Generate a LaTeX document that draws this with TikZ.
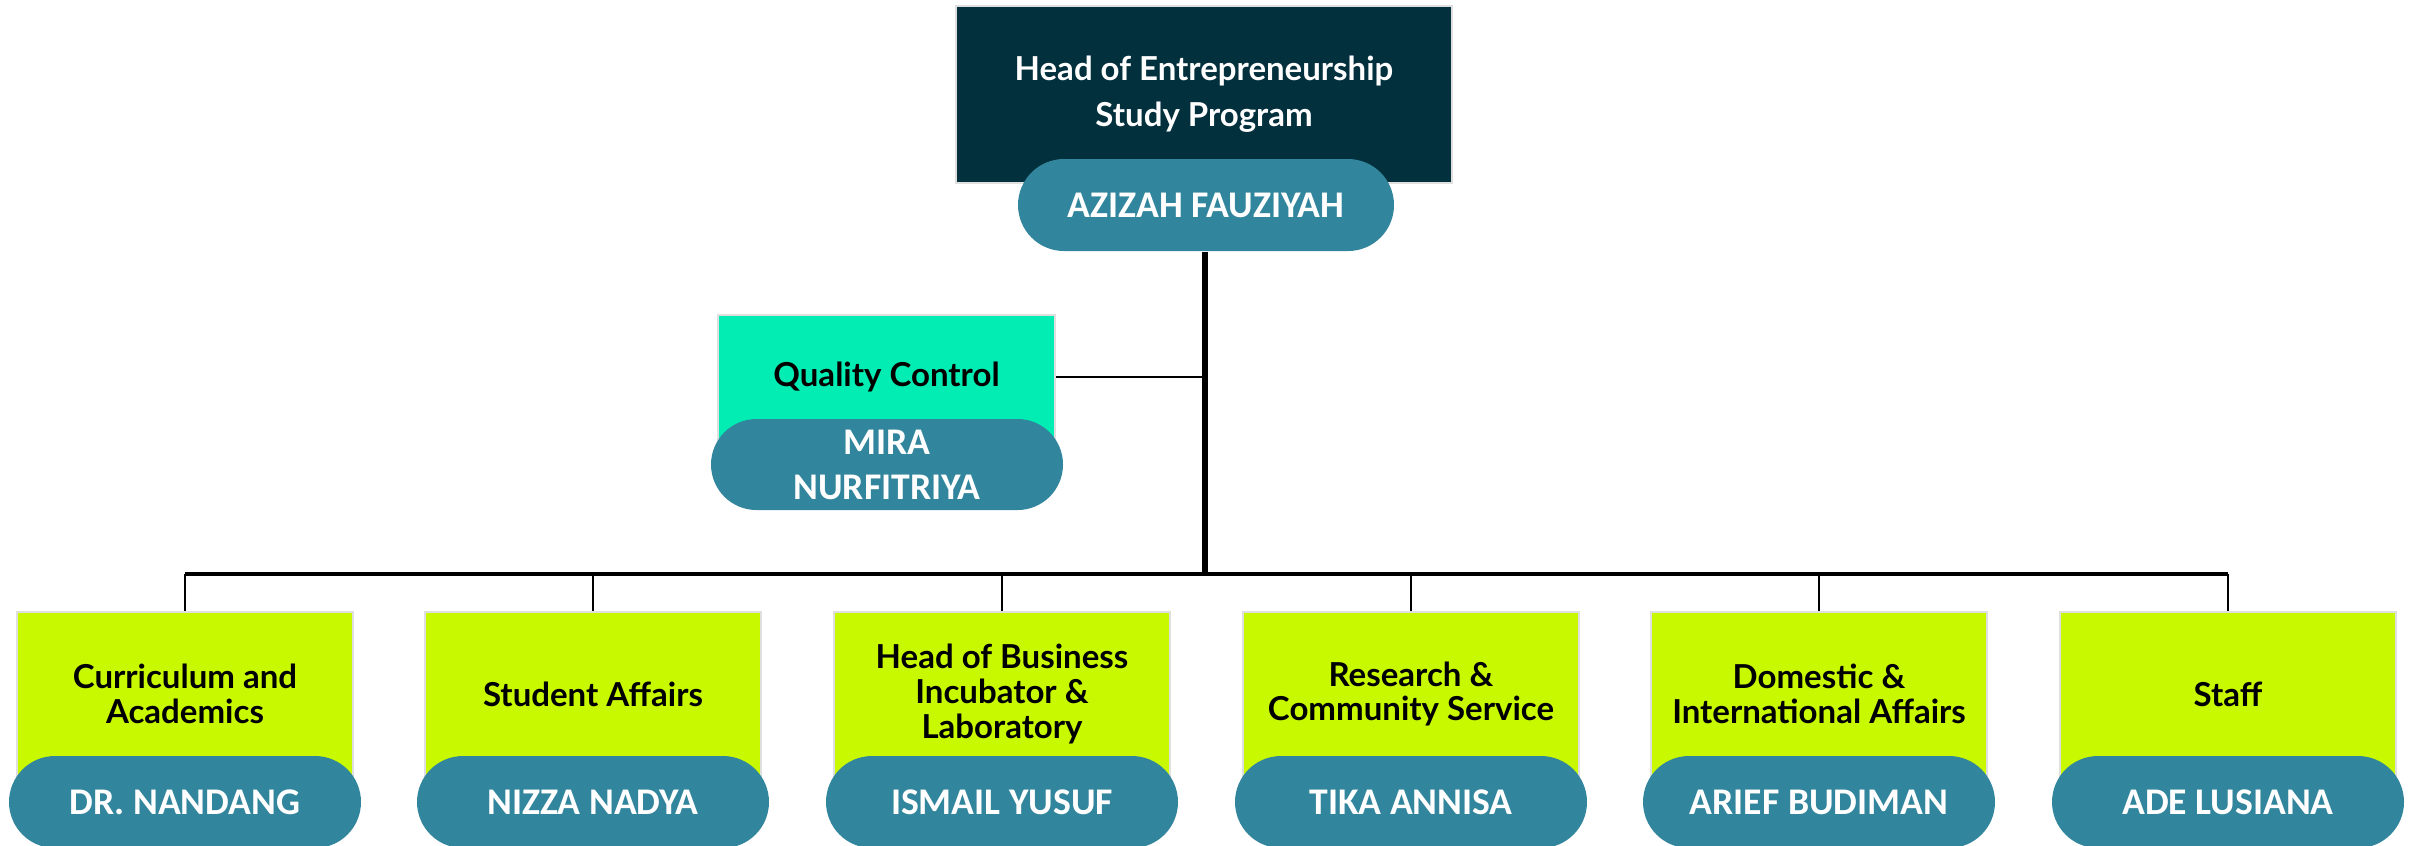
\documentclass[tikz,border=0pt]{standalone}
\usepackage{fontspec}
\setmainfont{Lato}
\newfontfamily\namefont{Carlito}
\usetikzlibrary{shapes.misc}
\definecolor{navy}{HTML}{03303D}
\definecolor{mint}{HTML}{02EDB3}
\definecolor{lime}{HTML}{C9F900}
\definecolor{pillc}{HTML}{31859C}
\begin{document}
\begin{tikzpicture}[x=0.3pt,y=-0.3pt,
  rolebox/.style={rectangle, draw=gray!25, line width=0.5pt, inner sep=0pt, align=center},
  sub/.style={rolebox, fill=lime, minimum width=100.8pt, minimum height=49.8pt, anchor=north},
  lbl/.style={align=center, inner sep=0pt, font=\bfseries\fontsize{9.9}{10.4}\selectfont},
  pill/.style={rounded rectangle, fill=pillc, text=white, inner sep=0pt, align=center,
     minimum width=105.6pt, minimum height=27.6pt,
     font=\namefont\bfseries\fontsize{11.3}{13.5}\selectfont},
  trunk/.style={line width=1.6pt},
  bar/.style={line width=1.2pt},
  drop/.style={line width=0.8pt},
  thin/.style={line width=0.5pt}]
\useasboundingbox (0,0) rectangle (2415,845);
% top
\node[rolebox, fill=navy, text=white, minimum width=148.8pt, minimum height=53.1pt,
  font=\bfseries\fontsize{9.9}{13.8}\selectfont] (head) at (1204,94.5)
  {Head of Entrepreneurship\\Study Program};
\node[pill, minimum width=112.8pt] (headp) at (1206,205) {AZIZAH FAUZIYAH};
% quality control
\node[rolebox, fill=mint, minimum width=101.1pt, minimum height=39.6pt, anchor=north] (qc) at (886.5,314) {};
\node[lbl] (qct) at (886.5,377) {Quality Control};
\node[pill, minimum height=27.3pt] (qcp) at (887,464.5) {MIRA\\NURFITRIYA};
% junctions
\coordinate (trunkbot) at (1205,574);
\coordinate (qcj) at (1205,377);
\draw[trunk] (headp.south -| trunkbot) -- (trunkbot);
\draw[thin] (qct -| qc.east) -- (qcj);
% bottom boxes
\node[sub] (b1) at (185,611) {};
\node[sub] (b2) at (593,611) {};
\node[sub] (b3) at (1002,611) {};
\node[sub] (b4) at (1411,611) {};
\node[sub] (b5) at (1819,611) {};
\node[sub] (b6) at (2228,611) {};
\node[lbl] (bt1) at (185,694) {Curriculum and\\Academics};
\node[lbl] (bt2) at (593,694) {Student Affairs};
\node[lbl] (bt3) at (1002,694) {Head of Business\\Incubator \&\\Laboratory};
\node[lbl] (bt4) at (1411,694) {Research \&\\Community Service};
\node[lbl] (bt5) at (1819,694) {Domestic \&\\International Affairs};
\node[lbl] (bt6) at (2228,694) {Staff};
\node[pill] (bp1) at (185,802) {DR. NANDANG};
\node[pill] (bp2) at (593,802) {NIZZA NADYA};
\node[pill] (bp3) at (1002,802) {ISMAIL YUSUF};
\node[pill] (bp4) at (1411,802) {TIKA ANNISA};
\node[pill] (bp5) at (1819,802) {ARIEF BUDIMAN};
\node[pill] (bp6) at (2228,802) {ADE LUSIANA};
\foreach \i in {1,...,6}{
  \coordinate (j\i) at (b\i.north |- trunkbot);
  \draw[drop] (j\i) -- (b\i.north);
}
\draw[bar] (j1) -- (j6);
\end{tikzpicture}
\end{document}
